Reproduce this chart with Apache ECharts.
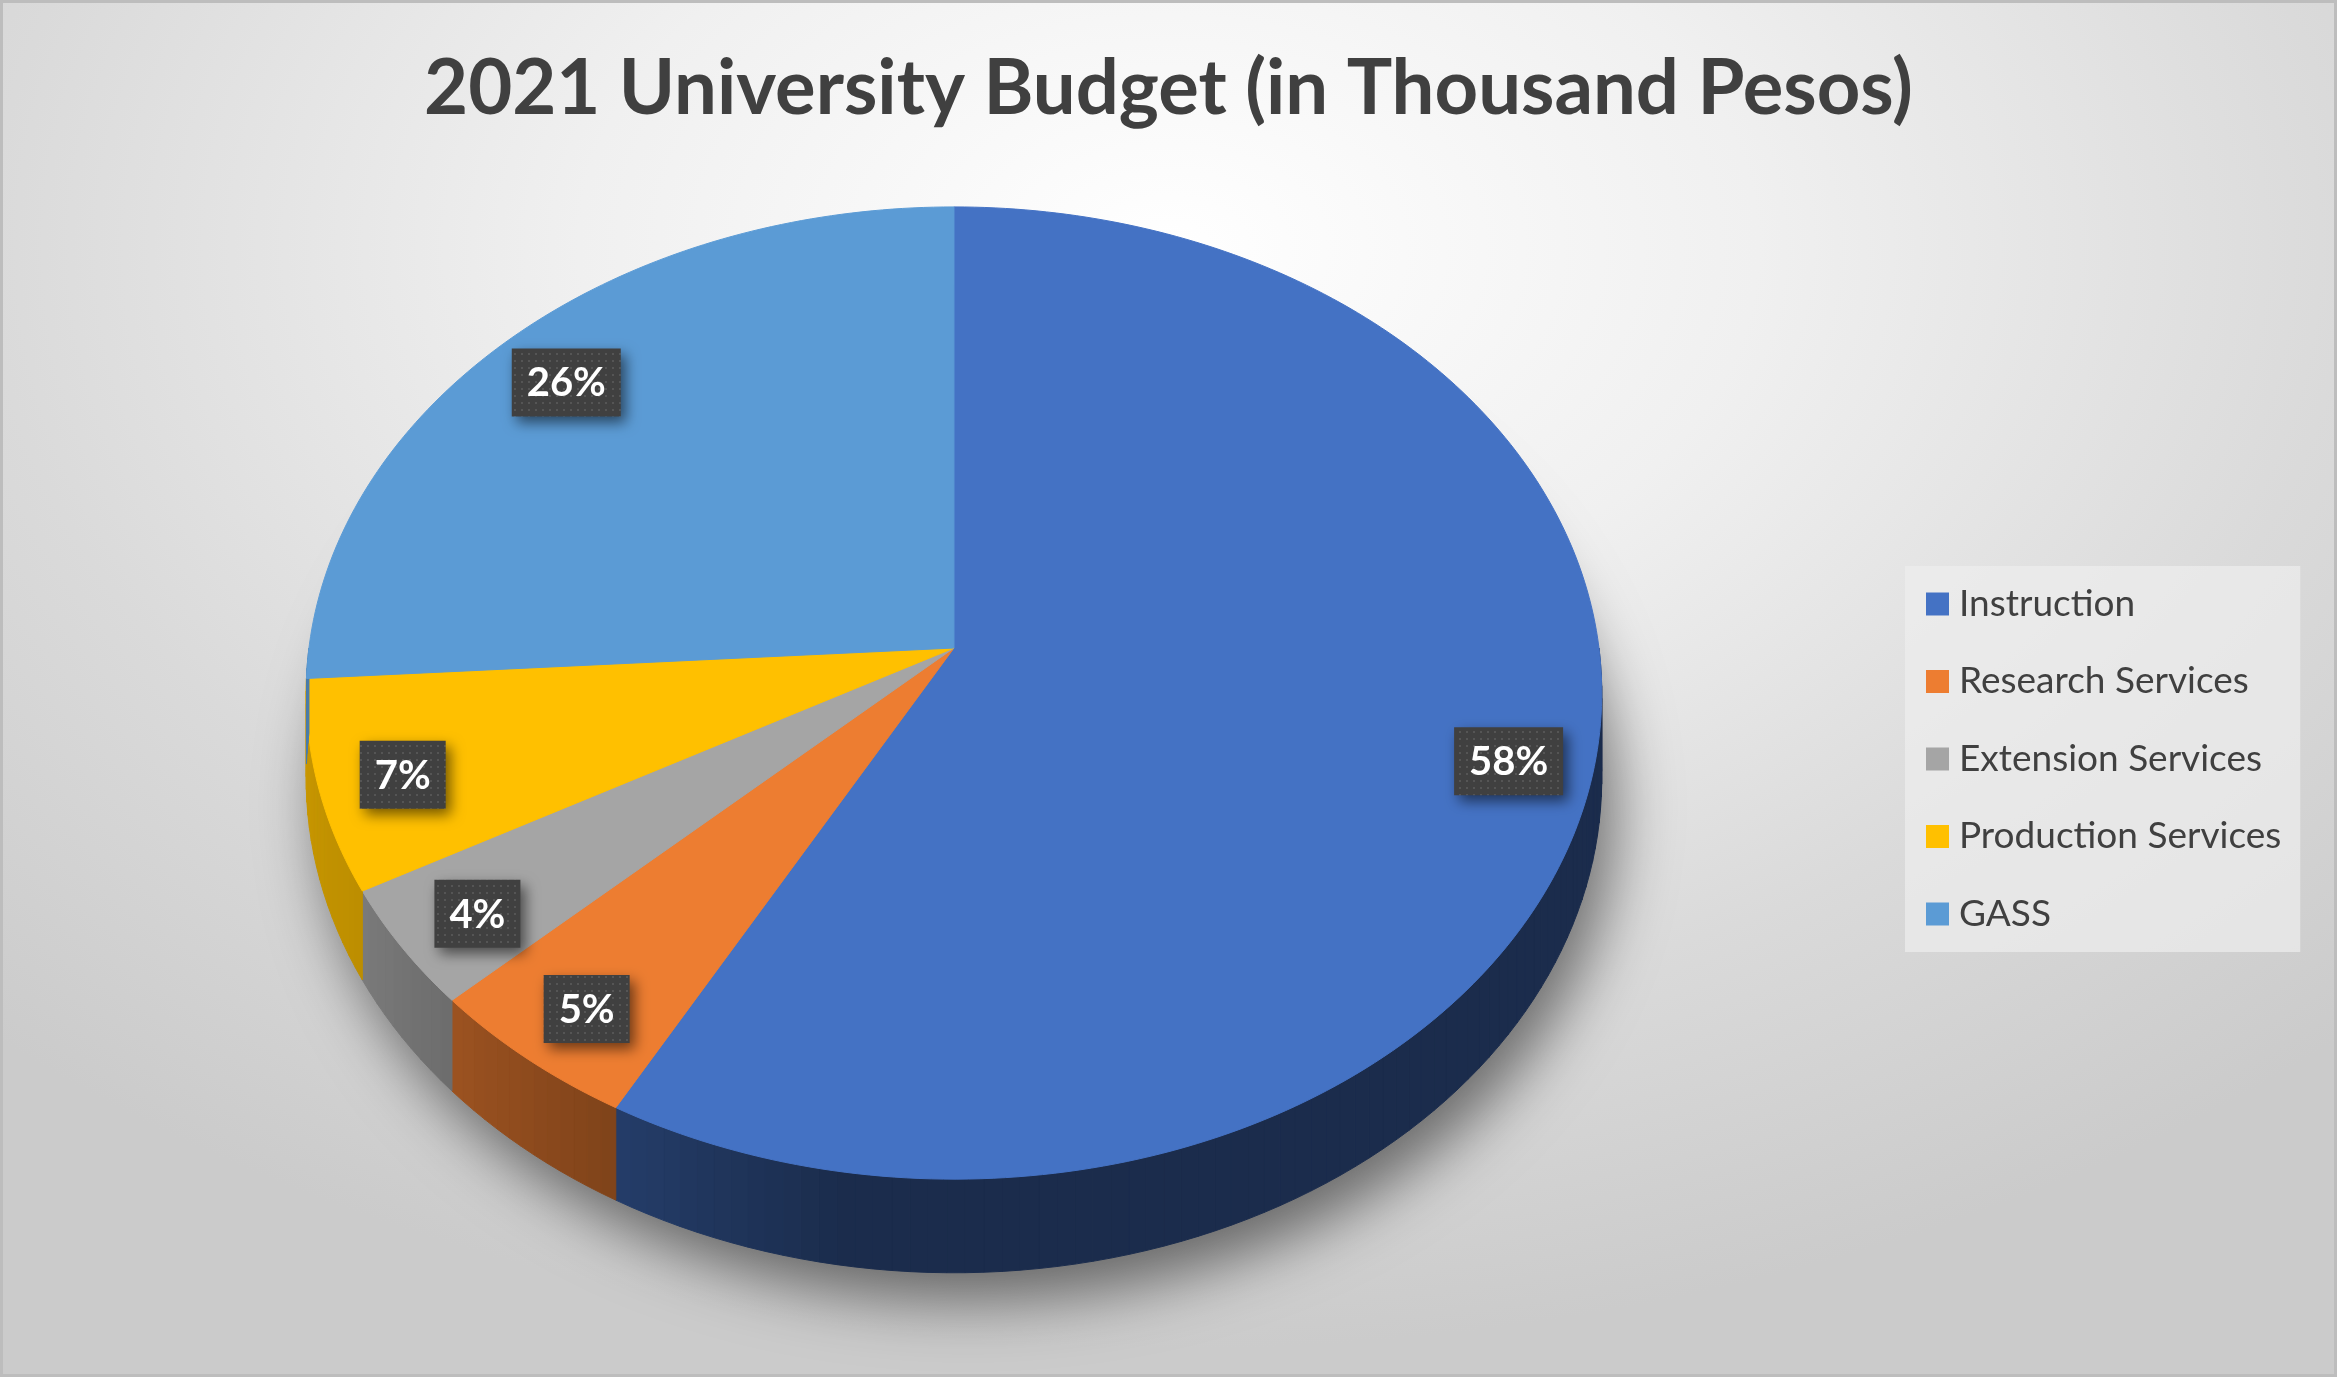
<!DOCTYPE html>
<html>
<head>
<meta charset="utf-8">
<title>2021 University Budget</title>
<script src="https://cdn.jsdelivr.net/npm/echarts@6/dist/echarts.min.js"></script>
<style>
  html, body { margin: 0; padding: 0; }
  #chart {
    width: 2337px; height: 1377px;
    background: radial-gradient(ellipse 72% 80% at 50% 18%, #ffffff 0%, #f0f0f0 35%, #dadada 70%, #cbcbcb 100%);
    box-shadow: inset 0 0 0 3px #bdbdbd;
  }
</style>
</head>
<body>
<div id="chart"></div>
<script>
// data (share of the 2021 budget, in %)
const categories = ['Instruction', 'Research Services', 'Extension Services', 'Production Services', 'GASS'];
const budget = [58, 5, 4, 7, 26];
const sliceColors = ['#4472C4', '#ED7D31', '#A5A5A5', '#FFC000', '#5B9BD5'];

const total = budget.reduce((s, v) => s + v, 0);

// side wall shading by angle (lighter toward the left)
const shadeStops = [[0, 0.39], [189, 0.39], [208, 0.53], [227, 0.66], [241, 0.74], [270, 0.8], [360, 0.8]];

function shadeAt(deg) {
  for (let k = 1; k < shadeStops.length; k++) {
    if (deg <= shadeStops[k][0]) {
      const a = shadeStops[k - 1], b = shadeStops[k];
      return a[1] + (b[1] - a[1]) * (deg - a[0]) / (b[0] - a[0]);
    }
  }
  return 0.8;
}

function darken(hex, f) {
  const n = parseInt(hex.slice(1), 16);
  const r = Math.round(((n >> 16) & 255) * f);
  const g = Math.round(((n >> 8) & 255) * f);
  const b = Math.round((n & 255) * f);
  return 'rgb(' + r + ',' + g + ',' + b + ')';
}

// little dotted tile for the label boxes
const dotTile = document.createElement('canvas');
dotTile.width = 7; dotTile.height = 7;
const tctx = dotTile.getContext('2d');
tctx.fillStyle = '#404040'; tctx.fillRect(0, 0, 7, 7);
tctx.fillStyle = '#555555'; tctx.fillRect(3, 3, 2, 2);

const measureCtx = document.createElement('canvas').getContext('2d');
measureCtx.font = 'bold 40px Lato';

// 3d-ish projection of the pie disk
function makeProjector(api) {
  const W = api.getWidth(), H = api.getHeight();
  const cx = W * 0.4082, cy = H * 0.4706;
  const rx = W * 0.276, ry = H * 0.35, depth = H * 0.0617;
  const persp = 0.0926;
  return function (deg, r, z) {
    const a = deg * Math.PI / 180;
    const u = r * Math.sin(a), v = -r * Math.cos(a);
    const w = 1 - persp * v;
    return [cx + rx * u / w, cy + (ry * v + depth * z) / w];
  };
}

function sliceRenderer(i) {
  return function (params, api) {
    const proj = makeProjector(api);
    let before = 0;
    for (let k = 0; k < i; k++) before += budget[k];
    const a0 = before / total * 360;
    const a1 = (before + api.value(0)) / total * 360;
    const color = sliceColors[i];
    const children = [];

    // front side wall
    const w0 = Math.max(a0, 90), w1 = Math.min(a1, 270);
    if (w1 > w0) {
      const steps = Math.max(2, Math.ceil((w1 - w0) / 1.5));
      for (let s = 0; s < steps; s++) {
        const t0 = w0 + (w1 - w0) * s / steps;
        const t1 = w0 + (w1 - w0) * (s + 1) / steps;
        const c = darken(color, shadeAt((t0 + t1) / 2));
        children.push({
          type: 'polygon',
          shape: { points: [proj(t0, 1, 0), proj(t1, 1, 0), proj(t1, 1, 1), proj(t0, 1, 1)] },
          style: { fill: c, stroke: c, lineWidth: 1 }
        });
      }
    }

    // top face
    const pts = [proj(0, 0, 0)];
    const n = Math.max(4, Math.ceil((a1 - a0) / 1));
    for (let s = 0; s <= n; s++) pts.push(proj(a0 + (a1 - a0) * s / n, 1, 0));
    children.push({
      type: 'polygon',
      shape: { points: pts },
      style: { fill: color, stroke: color, lineWidth: 1 }
    });

    // data label
    const txt = Math.round(api.value(0) / total * 100) + '%';
    const pos = proj((a0 + a1) / 2, 0.87, 0.08);
    const bw = Math.round(measureCtx.measureText(txt).width + 30), bh = 68;
    children.push({
      type: 'rect',
      z2: 50,
      shape: { x: pos[0] - bw / 2, y: pos[1] - bh / 2, width: bw, height: bh },
      style: {
        fill: { image: dotTile, repeat: 'repeat' },
        shadowBlur: 14, shadowOffsetX: 5, shadowOffsetY: 6, shadowColor: 'rgba(0,0,0,0.55)'
      }
    });
    children.push({
      type: 'text',
      z2: 60,
      x: pos[0], y: pos[1] + 1,
      style: {
        text: txt, fill: '#ffffff', align: 'center', verticalAlign: 'middle',
        font: 'bold 40px Lato'
      }
    });
    return { type: 'group', children: children };
  };
}

function renderShadow(params, api) {
  const proj = makeProjector(api);
  const pts = [];
  for (let d = 0; d < 360; d += 2) pts.push(proj(d, 1, 1));
  return {
    type: 'polygon',
    shape: { points: pts },
    style: {
      fill: '#9a9a9a',
      shadowBlur: 60, shadowOffsetX: 14, shadowOffsetY: 28, shadowColor: 'rgba(0,0,0,0.5)'
    }
  };
}

const series = [{
  type: 'custom',
  name: 'shadow',
  coordinateSystem: 'none',
  silent: true,
  z: 1,
  data: [[0]],
  renderItem: renderShadow
}];
categories.forEach(function (name, i) {
  series.push({
    type: 'custom',
    name: name,
    coordinateSystem: 'none',
    z: 2,
    itemStyle: { color: sliceColors[i] },
    data: [[budget[i]]],
    renderItem: sliceRenderer(i)
  });
});

const chart = echarts.init(document.getElementById('chart'));
chart.setOption({
  animation: false,
  backgroundColor: 'transparent',
  title: {
    text: '2021 University Budget (in Thousand Pesos)',
    left: 'center',
    top: 46,
    textStyle: { fontFamily: 'Lato', fontWeight: 'bold', fontSize: 76, color: '#404040' }
  },
  legend: {
    data: categories,
    orient: 'vertical',
    left: 1905,
    top: 566,
    padding: [19.5, 19, 19.5, 21],
    itemGap: 40.5,
    itemWidth: 23,
    itemHeight: 23,
    icon: 'rect',
    backgroundColor: 'rgba(238,238,238,0.7)',
    selectedMode: false,
    textStyle: { fontFamily: 'Lato', fontSize: 37, lineHeight: 37, color: '#404040', padding: [0, 0, 0, 5] }
  },
  series: series
});
</script>
</body>
</html>
